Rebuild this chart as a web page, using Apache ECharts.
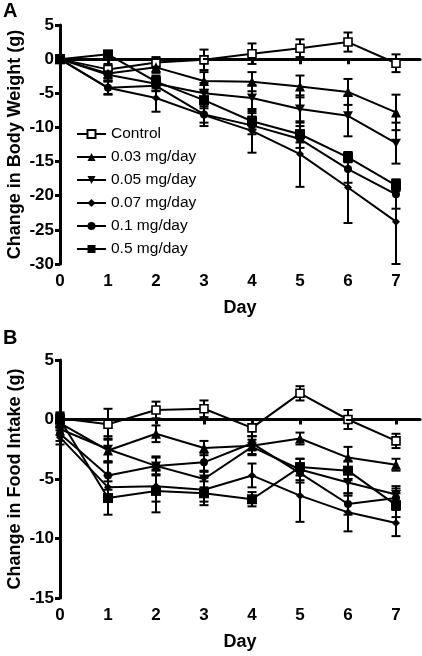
<!DOCTYPE html>
<html>
<head>
<meta charset="utf-8">
<script src="https://cdn.jsdelivr.net/npm/echarts@6/dist/echarts.min.js"></script>
<style>html,body{margin:0;padding:0;background:#fff;}#c{width:422px;height:656px;}</style>
</head>
<body>
<div id="c"></div>
<script>
// ---------- data ----------
const days = [0, 1, 2, 3, 4, 5, 6, 7];
const dayTicks = [0, 1, 2, 3, 4, 5, 6, 7];
const seriesNames = ['Control', '0.03 mg/day', '0.05 mg/day', '0.07 mg/day', '0.1 mg/day', '0.5 mg/day'];

// Panel A: change in body weight (g)
const bwControl = [0, -1.5, -0.5, -0.1, 0.8, 1.6, 2.5, -0.6];
const bw003     = [0, -2.1, -1.2, -3.2, -3.3, -4.0, -4.8, -7.8];
const bw005     = [0, -2.3, -3.6, -5.0, -5.7, -7.3, -8.3, -12.3];
const bw007     = [0, -4.2, -5.7, -8.2, -10.5, -13.9, -18.8, -23.8];
const bw01      = [0, -4.2, -3.9, -8.1, -9.7, -11.7, -16.1, -19.8];
const bw05      = [0, 0.7, -3.3, -6.0, -9.1, -11.0, -14.4, -18.5];

const bwErrControl = [0, 0.8, 0.8, 1.5, 1.5, 1.3, 1.4, 1.3];
const bwErr003     = [0, 0.7, 0.8, 1.3, 1.4, 1.6, 1.9, 2.6];
const bwErr005     = [0, 0.8, 1.0, 1.5, 1.9, 2.0, 3.0, 3.0];
const bwErr007     = [0, 1.0, 2.0, 1.6, 3.2, 4.8, 5.2, 6.2];
const bwErr01      = [0, 0.9, 0.8, 1.2, 1.3, 1.3, 2.0, 2.1];
const bwErr05      = [0, 0.5, 0.9, 1.2, 1.2, 1.2, 0.7, 0.8];

// Panel B: change in food intake (g)
const fiControl = [0.1, -0.4, 0.8, 0.9, -0.7, 2.2, 0.0, -1.8];
const fi003     = [-0.3, -2.6, -1.2, -2.4, -2.2, -1.6, -3.2, -3.8];
const fi005     = [-0.8, -2.5, -3.9, -5.0, -2.3, -4.2, -5.3, -6.3];
const fi007     = [-1.5, -5.7, -5.6, -5.9, -4.7, -6.4, -7.8, -8.7];
const fi01      = [-1.2, -4.7, -3.9, -3.6, -2.0, -4.5, -7.1, -6.6];
const fi05      = [0.0, -6.6, -6.0, -6.2, -6.7, -4.0, -4.3, -7.2];

const fiErrControl = [0.4, 1.3, 0.7, 0.7, 0.7, 0.6, 0.8, 0.6];
const fiErr003     = [0.4, 1.0, 0.7, 0.6, 0.8, 0.5, 0.9, 0.5];
const fiErr005     = [0.5, 1.1, 0.8, 0.7, 0.6, 0.9, 1.1, 0.7];
const fiErr007     = [0.6, 1.0, 1.3, 1.0, 1.0, 2.2, 1.6, 1.1];
const fiErr01      = [0.6, 1.2, 0.7, 0.8, 0.6, 0.8, 0.9, 0.8];
const fiErr05      = [0.6, 1.4, 1.8, 1.0, 0.6, 0.7, 0.8, 1.0];

// ---------- styles ----------
const FONT = '"Liberation Sans", Arial, sans-serif';
const symbolStyles = [
  { symbol: 'rect', size: 8, fill: '#fff', border: 1.6 },
  { symbol: 'triangle', size: 10, fill: '#000', border: 0 },
  { symbol: 'path://M0,0L10,0L5,9Z', size: [10, 9], fill: '#000', border: 0 },
  { symbol: 'diamond', size: 8, fill: '#000', border: 0 },
  { symbol: 'circle', size: 8, fill: '#000', border: 0 },
  { symbol: 'rect', size: 10, fill: '#000', border: 0 }
];

const panelA = [bwControl, bw003, bw005, bw007, bw01, bw05];
const panelAErr = [bwErrControl, bwErr003, bwErr005, bwErr007, bwErr01, bwErr05];
const panelB = [fiControl, fi003, fi005, fi007, fi01, fi05];
const panelBErr = [fiErrControl, fiErr003, fiErr005, fiErr007, fiErr01, fiErr05];

function errRender(params, api) {
  const x = api.value(0), lo = api.value(1), hi = api.value(2);
  const p1 = api.coord([x, lo]), p2 = api.coord([x, hi]);
  const w = 4.5;
  const st = { stroke: '#000', lineWidth: 2 };
  return {
    type: 'group',
    children: [
      { type: 'line', shape: { x1: p1[0], y1: p1[1], x2: p2[0], y2: p2[1] }, style: st },
      { type: 'line', shape: { x1: p1[0] - w, y1: p1[1], x2: p1[0] + w, y2: p1[1] }, style: st },
      { type: 'line', shape: { x1: p2[0] - w, y1: p2[1], x2: p2[0] + w, y2: p2[1] }, style: st }
    ]
  };
}

const series = [];
function addPanel(vals, errs, gi) {
  vals.forEach(function (arr, i) {
    const ebData = [];
    days.forEach(function (d, k) {
      if (errs[i][k] > 0) ebData.push([d, arr[k] - errs[i][k], arr[k] + errs[i][k]]);
    });
    series.push({
      type: 'custom', name: 'err' + gi + '_' + i, xAxisIndex: gi, yAxisIndex: gi,
      renderItem: errRender, data: ebData, silent: true, clip: false, z: 2
    });
  });
  vals.forEach(function (arr, i) {
    const s = symbolStyles[i];
    const ser = {
      type: 'line', name: seriesNames[i], xAxisIndex: gi, yAxisIndex: gi,
      data: days.map(function (d, k) { return [d, arr[k]]; }),
      symbol: s.symbol, symbolSize: s.size, showAllSymbol: true, clip: false,
      lineStyle: { color: '#000', width: 2 },
      itemStyle: { color: s.fill, borderColor: '#000', borderWidth: s.border, opacity: 1 },
      emphasis: { disabled: true }, animation: false, z: 3
    };
    if (i === 0) {
      ser.markLine = {
        silent: true, symbol: 'none', label: { show: false },
        lineStyle: { color: '#000', width: 2, type: [8, 5] },
        data: [{ yAxis: 0 }], animation: false
      };
    }
    series.push(ser);
  });
}
addPanel(panelA, panelAErr, 0);
addPanel(panelB, panelBErr, 1);

function xAxisCfg(gi) {
  return {
    type: 'value', gridIndex: gi, min: 0, max: 7.5, interval: 1,
    axisLine: { show: true, lineStyle: { color: '#000', width: 3 } },
    axisTick: { show: true, length: 5, lineStyle: { color: '#000', width: 3 }, customValues: dayTicks },
    axisLabel: { color: '#000', fontSize: 17, fontWeight: 'bold', fontFamily: FONT, margin: 9, customValues: dayTicks },
    splitLine: { show: false },
    name: 'Day', nameLocation: 'middle', nameGap: 35, nameMoveOverlap: false,
    nameTextStyle: { color: '#000', fontSize: 18, fontWeight: 'bold', fontFamily: FONT }
  };
}
function yAxisCfg(gi, min, name) {
  return {
    type: 'value', gridIndex: gi, min: min, max: 5, interval: 5,
    axisLine: { show: true, onZero: false, lineStyle: { color: '#000', width: 3 } },
    axisTick: { show: true, length: 5, lineStyle: { color: '#000', width: 3 } },
    axisLabel: { color: '#000', fontSize: 17, fontWeight: 'bold', fontFamily: FONT, margin: 6 },
    splitLine: { show: false },
    name: name, nameLocation: 'middle', nameGap: 36, nameRotate: 90, nameMoveOverlap: false,
    nameTextStyle: { color: '#000', fontSize: 18, fontWeight: 'bold', fontFamily: FONT }
  };
}

const option = {
  backgroundColor: '#fff',
  animation: false,
  grid: [
    { left: 60, top: 25, width: 360, height: 239, containLabel: false, outerBoundsMode: 'none' },
    { left: 60, top: 360, width: 360, height: 238, containLabel: false, outerBoundsMode: 'none' }
  ],
  xAxis: [xAxisCfg(0), xAxisCfg(1)],
  yAxis: [yAxisCfg(0, -30, 'Change in Body Weight (g)'), yAxisCfg(1, -15, 'Change in Food Intake (g)')],
  legend: {
    orient: 'vertical', left: 71, top: 121,
    data: seriesNames, itemWidth: 29, itemHeight: 10, itemGap: 7,
    textStyle: { color: '#000', fontSize: 15.5, fontFamily: FONT },
    selectedMode: false
  },
  graphic: [
    { type: 'text', left: 3, top: 1, style: { text: 'A', fontSize: 20, fontWeight: 'bold', fontFamily: FONT, fill: '#000' } },
    { type: 'text', left: 3, top: 328, style: { text: 'B', fontSize: 20, fontWeight: 'bold', fontFamily: FONT, fill: '#000' } }
  ],
  series: series
};
const chart = echarts.init(document.getElementById('c'), null, { renderer: 'canvas' });
chart.setOption(option);
</script>
</body>
</html>
